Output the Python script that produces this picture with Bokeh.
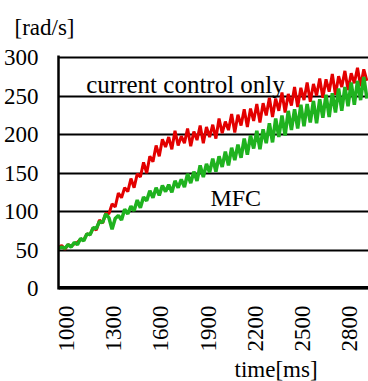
import math
from bokeh.plotting import figure
from bokeh.models import Range1d, FixedTicker, Span, Label, Title
from bokeh.embed import file_html
from bokeh.resources import INLINE

# sample times [ms]
time_ms = list(range(950, 2911, 20))

# current control only (red) [rad/s]
current_only = [
    53, 56, 51, 57, 55, 58, 60, 64, 63, 71,
    70, 79, 76, 89, 85, 98, 97, 110, 106, 124,
    118, 131, 126, 143, 131, 149, 145, 164, 150, 172,
    165, 186, 172, 194, 184, 197, 181, 205, 186, 198,
    189, 208, 185, 204, 193, 212, 189, 210, 197, 213,
    195, 221, 202, 217, 206, 227, 203, 226, 212, 233,
    210, 234, 218, 240, 216, 241, 225, 248, 223, 247,
    231, 255, 229, 253, 238, 262, 236, 261, 245, 268,
    243, 266, 251, 273, 248, 272, 256, 279, 252, 276,
    262, 283, 258, 280, 267, 287, 263, 285, 270,
]

# MFC (green) [rad/s]
mfc = [
    52, 54, 52, 57, 54, 60, 57, 65, 62, 71,
    70, 79, 78, 87, 86, 97, 92, 77, 91, 95,
    89, 103, 97, 107, 101, 115, 105, 119, 114, 127,
    118, 131, 121, 134, 126, 135, 125, 140, 131, 142,
    132, 149, 137, 152, 140, 160, 145, 162, 151, 169,
    152, 172, 158, 178, 160, 183, 167, 187, 170, 195,
    174, 199, 182, 205, 181, 207, 189, 215, 190, 221,
    197, 225, 199, 231, 206, 233, 208, 239, 211, 240,
    216, 244, 215, 246, 222, 252, 223, 254, 229, 260,
    231, 262, 237, 268, 239, 270, 245, 275, 247,
]

x_ticks = [1000, 1300, 1600, 1900, 2200, 2500, 2800]
y_ticks = [0, 50, 100, 150, 200, 250, 300]

FONT = "Times New Roman"

p = figure(width=368, height=381, output_backend="svg", toolbar_location=None,
           min_border_left=56, min_border_right=0, min_border_top=55,
           min_border_bottom=88,
           x_range=Range1d(949.5, 2920), y_range=Range1d(-1.3, 303))
p.outline_line_color = None
p.background_fill_color = "white"
p.border_fill_color = "white"

# axes
p.xaxis.ticker = FixedTicker(ticks=x_ticks)
p.yaxis.ticker = FixedTicker(ticks=y_ticks)
for ax in (p.xaxis, p.yaxis):
    ax.major_tick_line_color = None
    ax.minor_tick_line_color = None
    ax.major_label_text_font = FONT
    ax.major_label_text_font_size = "23px"
    ax.major_label_text_color = "black"
p.xaxis.axis_line_color = None
p.xaxis.major_label_orientation = math.pi / 2
p.xaxis.major_label_standoff = 10
p.xaxis.axis_label_standoff = 0
p.yaxis.axis_line_color = "black"
p.yaxis.axis_line_width = 2.5
p.yaxis.major_label_standoff = 14

p.xgrid.grid_line_color = None
p.ygrid.grid_line_color = "black"
p.ygrid.grid_line_width = 2

p.add_layout(Span(location=0, dimension="width", line_color="black", line_width=5))

p.line(time_ms, current_only, line_color="#E30000", line_width=3)
p.line(time_ms, mfc, line_color="#1FB21F", line_width=3.5)

p.add_layout(Label(x=1126, y=265, text="current control only", text_font=FONT,
                   text_font_size="25px", text_color="black", text_baseline="alphabetic"))
p.add_layout(Label(x=1915, y=118, text="MFC", text_font=FONT,
                   text_font_size="24px", text_color="black", text_baseline="alphabetic"))

p.add_layout(Title(text="[rad/s]", align="left", offset=-44, text_font=FONT,
                   text_font_size="23px", text_font_style="normal",
                   vertical_align="top",
                   text_color="black", standoff=27), "above")
p.add_layout(Title(text="time[ms]", align="left", offset=176, text_font=FONT,
                   text_font_size="23px", text_font_style="normal",
                   text_color="black", standoff=0), "below")

open("out.html", "w").write(file_html(p, INLINE))
